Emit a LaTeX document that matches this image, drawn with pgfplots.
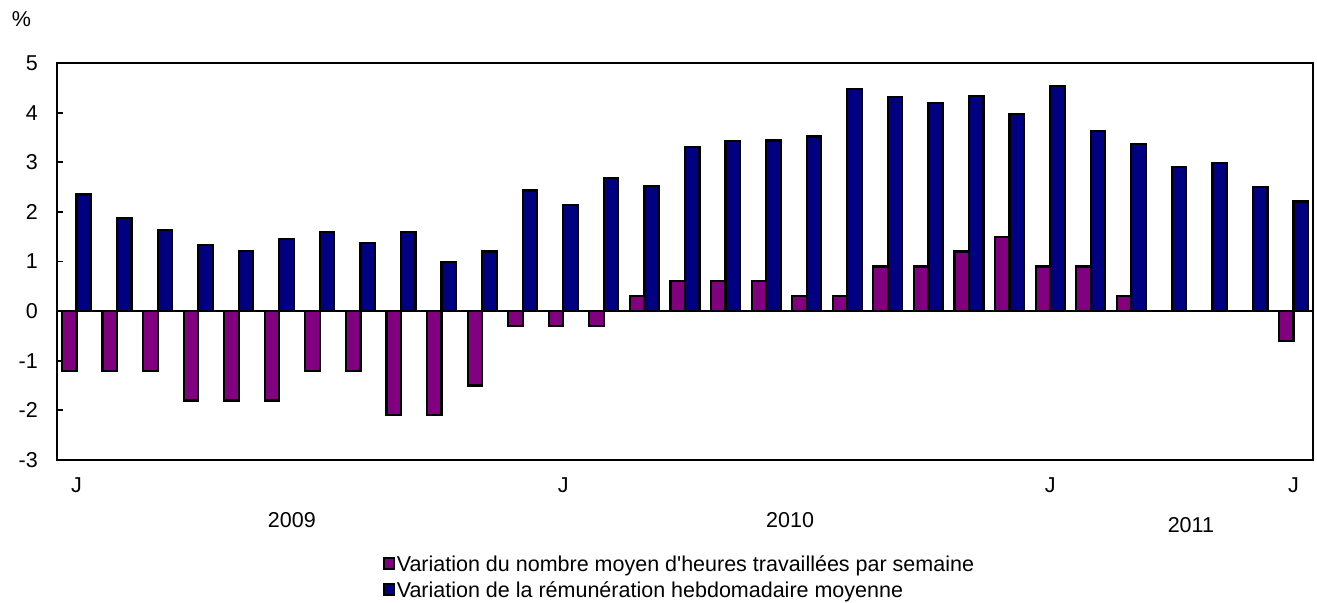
\documentclass[border=0pt]{standalone}
\usepackage{pgfplots}
\pgfplotsset{compat=1.18}
\usepackage{fontspec}
\setmainfont{Liberation Sans}
\definecolor{cpurple}{HTML}{800080}
\definecolor{cnavy}{HTML}{000080}
\begin{document}
\fontsize{21.5}{25}\selectfont
\begin{tikzpicture}
\begin{axis}[
  scale only axis,
  width=1256pt, height=397pt,
  at={(0,0)}, anchor=south west,
  xmin=-0.48, xmax=30.48,
  ymin=-3, ymax=5,
  ytick={-3,-2,-1,0,1,2,3,4,5},
  xtick={0,12,24,30},
  xticklabels={J,J,J,J},
  major x tick style={draw=none},
  ytick pos=left,
  tick align=inside,
  major tick length=6pt,
  every tick/.style={line width=1.8pt, black},
  axis line style={line width=2.2pt},
  ybar=0pt,
  bar width=14.5pt,
  clip=false,
  /pgf/number format/assume math mode=true,
  tick label style={font=\fontsize{21.5}{25}\selectfont},
  yticklabel style={inner xsep=0pt, xshift=-19pt},
  xticklabel style={inner ysep=0pt, yshift=-12pt},
  legend style={at={(0.2596,-0.235)}, anchor=north west, draw=none, fill=none,
    font=\fontsize{21.5}{25}\selectfont, row sep=3pt, inner sep=0pt,
    /tikz/every odd column/.append style={column sep=0pt}},
  legend cell align=left,
  legend image code/.code={\draw[#1,draw=black,line width=1.5pt] (0pt,-4pt) rectangle (10pt,7pt);},
]
\addplot[fill=cpurple, draw=black, line width=2.2pt] coordinates {
(0,-1.2) (1,-1.2) (2,-1.2) (3,-1.8) (4,-1.8) (5,-1.8) (6,-1.2) (7,-1.2) (8,-2.1) (9,-2.1)
(10,-1.5) (11,-0.3) (12,-0.3) (13,-0.3) (14,0.3) (15,0.6) (16,0.6) (17,0.6) (18,0.3) (19,0.3)
(20,0.9) (21,0.9) (22,1.2) (23,1.5) (24,0.9) (25,0.9) (26,0.3) (27,0) (28,0) (29,0) (30,-0.6)};
\addlegendentry{Variation du nombre moyen d\textquotesingle heures travaillées par semaine}
\addplot[fill=cnavy, draw=black, line width=2.2pt] coordinates {
(0,2.35) (1,1.88) (2,1.64) (3,1.33) (4,1.21) (5,1.46) (6,1.59) (7,1.37) (8,1.59) (9,0.99)
(10,1.2) (11,2.43) (12,2.14) (13,2.68) (14,2.52) (15,3.31) (16,3.43) (17,3.44) (18,3.52) (19,4.47)
(20,4.32) (21,4.19) (22,4.33) (23,3.97) (24,4.54) (25,3.63) (26,3.37) (27,2.9) (28,2.98) (29,2.5) (30,2.21)};
\addlegendentry{Variation de la rémunération hebdomadaire moyenne}
\draw[line width=2.2pt] (axis cs:-0.48,0) -- (axis cs:30.48,0);
\node at (axis cs:5.31,-4.22) {2009};
\node at (axis cs:17.59,-4.22) {2010};
\node at (axis cs:27.47,-4.31) {2011};
\end{axis}
\node at (-35.5pt,440.7pt) {\%};
\path[use as bounding box] (-57pt,-142pt) rectangle (1260pt,460pt);
\end{tikzpicture}
\end{document}
